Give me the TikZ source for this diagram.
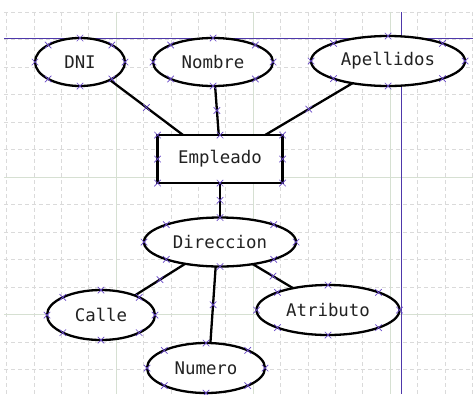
\documentclass[tikz,border=0pt]{standalone}
\usepackage{fontspec}
\newfontfamily\diamono{DejaVu Sans Mono}
\usetikzlibrary{shapes.geometric,shapes.misc}
\definecolor{gridminor}{RGB}{218,218,218}
\definecolor{gridmajor}{RGB}{214,224,210}
\definecolor{pagebreak}{RGB}{78,56,170}
\definecolor{cpcol}{RGB}{104,72,200}
\definecolor{inktext}{RGB}{34,34,34}

\begin{document}
\begin{tikzpicture}[x=1pt,y=-1pt,
  attr/.style={ellipse, draw=black, line width=2.3pt, fill=white,
    inner sep=0pt, outer sep=0pt, text=inktext,
    font=\diamono\fontsize{17.4}{20}\selectfont},
  entity/.style={rectangle, draw=black, line width=2.3pt, fill=white,
    inner sep=0pt, outer sep=0pt, text=inktext,
    font=\diamono\fontsize{17.4}{20}\selectfont},
  link/.style={draw=black, line width=2.3pt},
  cpt/.style={cross out, draw=cpcol, line width=0.7pt, minimum size=6.5pt,
    inner sep=0pt, outer sep=0pt},
  minorline/.style={draw=gridminor, line width=0.6pt, dash pattern=on 4pt off 3pt},
  majorline/.style={draw=gridmajor, line width=0.7pt},
  breakline/.style={draw=pagebreak, line width=1.2pt}]

\useasboundingbox (0,0) rectangle (473,394);
\fill[white] (0,0) rectangle (473,394);

% canvas grid
\foreach \k in {0,...,17}
  \draw[minorline] ({6.4+27.4*\k},12) -- ({6.4+27.4*\k},394);
\foreach \k in {0,...,13}
  \draw[minorline] (4,{12+27.5*\k}) -- (473,{12+27.5*\k});
\foreach \gx in {116,253,390}
  \draw[majorline] (\gx,12) -- (\gx,394);
\foreach \gy in {177,314.5}
  \draw[majorline] (4,\gy) -- (473,\gy);

% page breaks
\draw[breakline] (4,38.5) -- (473,38.5);
\draw[breakline] (401.5,12) -- (401.5,394);

% entity and attributes
\node[attr, minimum width=90pt, minimum height=48pt] (dni) at (80,62) {DNI};
\node[attr, minimum width=120pt, minimum height=48pt] (nom) at (213,62) {Nombre};
\node[attr, minimum width=154pt, minimum height=50pt] (ape) at (388,61) {Apellidos};
\node[entity, minimum width=125pt, minimum height=48pt] (emp) at (220,159) {Empleado};
\node[attr, minimum width=152pt, minimum height=49pt] (dir) at (220,242) {Direccion};
\node[attr, minimum width=108pt, minimum height=50pt] (cal) at (101,315) {Calle};
\node[attr, minimum width=118pt, minimum height=50pt] (num) at (206,368) {Numero};
\node[attr, minimum width=143pt, minimum height=50pt] (atr) at (328,310) {Atributo};

% connectors with their midpoint handles
\draw[link] (dni.-31) -- node[cpt] (m1) {} (emp.147);
\draw[link] (nom.-85) -- node[cpt] (m2) {} (emp.93);
\draw[link] (ape.212.6) -- node[cpt] (m3) {} (emp.28.3);
\draw[link] (emp.south) -- node[cpt] (m4) {} (dir.north);
\draw[link] (dir.212) -- node[cpt] (m5) {} (cal.30.5);
\draw[link] (dir.-100) -- node[cpt] (m6) {} (num.80.5);
\draw[link] (dir.-34.4) -- node[cpt] (m7) {} (atr.148.6);

% connection points of the shapes
\foreach \n in {dni,nom,ape,emp,dir,cal,num,atr}
  \foreach \a [count=\i] in {north,north east,east,south east,south,south west,west,north west}
    \node[cpt] (cp-\n-\i) at (\n.\a) {};
\end{tikzpicture}
\end{document}
